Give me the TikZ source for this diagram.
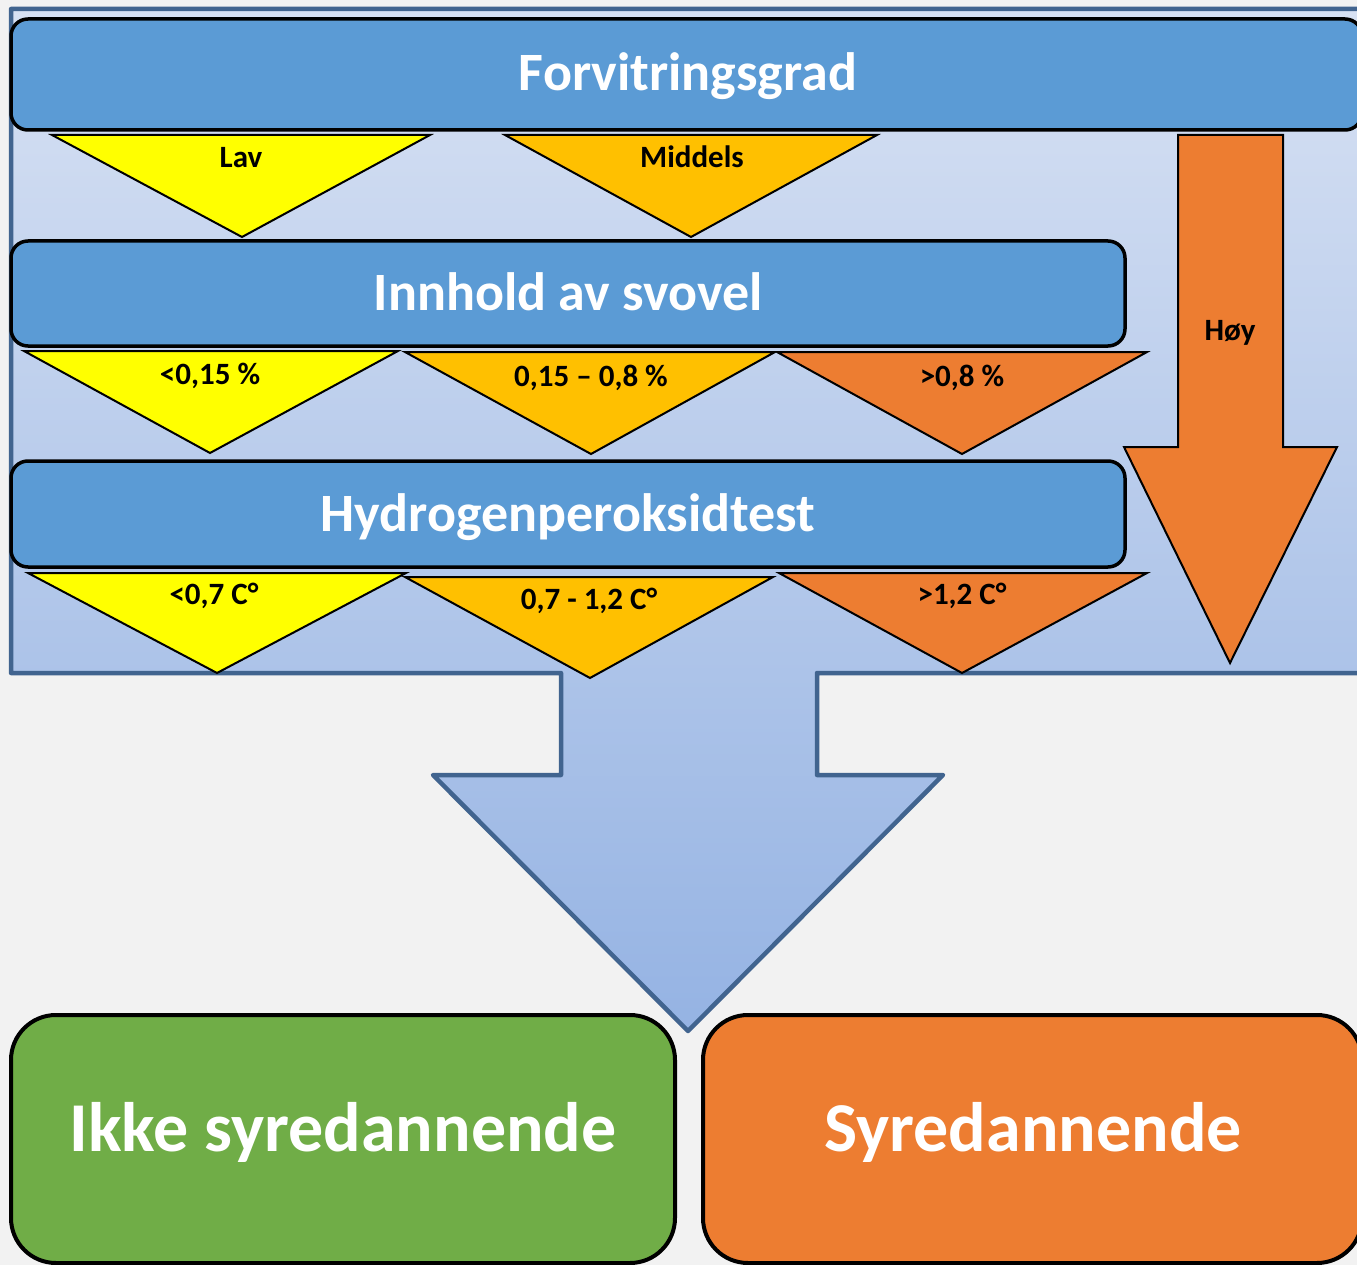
\documentclass[tikz,border=0pt]{standalone}
\usepackage{fontspec}
\setmainfont{Carlito}
\definecolor{bggray}{HTML}{F2F2F2}
\definecolor{frameblue}{HTML}{41648F}
\definecolor{boxblue}{HTML}{5B9BD5}
\definecolor{yel}{HTML}{FFFF00}
\definecolor{gold}{HTML}{FFC000}
\definecolor{orng}{HTML}{ED7D31}
\definecolor{grn}{HTML}{70AD47}
\definecolor{shtop}{HTML}{D7E1F3}
\definecolor{shmid}{HTML}{BDCEEC}
\definecolor{shbot}{HTML}{95B3E3}
\tikzset{
  bluebox/.style={draw=black, line width=3.5pt, fill=boxblue, rounded corners=17pt, inner sep=0pt},
  endbox/.style={draw=black, line width=4pt, rounded corners=45pt, inner sep=0pt},
  tri/.style={draw=black, line width=2pt, line join=miter},
  bigtxt/.style={text=white, font=\bfseries\fontsize{54}{62}\selectfont, anchor=base, inner sep=0pt},
  hugetxt/.style={text=white, font=\bfseries\fontsize{70}{80}\selectfont, anchor=base, inner sep=0pt},
  smalltxt/.style={text=black, font=\bfseries\fontsize{31}{36}\selectfont, anchor=base, inner sep=0pt},
  framestyle/.style={draw=frameblue, line width=4.5pt, line join=round, top color=shtop, middle color=shmid, bottom color=shbot}
}
\begin{document}
\begin{tikzpicture}[x=1pt, y=-1pt]
\useasboundingbox (0,0) rectangle (1357,1265);
\clip (0,0) rectangle (1357,1265);
\fill[bggray] (0,0) rectangle (1357,1265);
% frame with big arrow
\shade[framestyle] (11,9) -- (1375,9) -- (1375,673) -- (817,673) -- (817,775) -- (943,775) -- (688,1031) -- (433,775) -- (561,775) -- (561,673) -- (11,673) -- cycle;
% high arrow
\draw[tri, fill=orng] (1178,135) -- (1283,135) -- (1283,447) -- (1337,447) -- (1230,663) -- (1124,447) -- (1178,447) -- cycle;
\node[smalltxt] (hoy) at (1230,340) {Høy};
% row 1 triangles
\draw[tri, fill=yel] (52,135) -- (430,135) -- (242,237) -- cycle;
\draw[tri, fill=gold] (505,135) -- (877,135) -- (691,237) -- cycle;
\node[smalltxt] (lav) at (241,168) {Lav};
\node[smalltxt] (middels) at (692,168) {Middels};
% row 2 triangles
\draw[tri, fill=yel] (24,351) -- (398,351) -- (210,453) -- cycle;
\draw[tri, fill=gold] (405,352) -- (775,352) -- (591,454) -- cycle;
\draw[tri, fill=orng] (777,352) -- (1147,352) -- (962,454) -- cycle;
\node[smalltxt] (s1) at (210,384) {<0,15 \%};
\node[smalltxt] (s2) at (591,386) {0,15 – 0,8 \%};
\node[smalltxt] (s3) at (962,386) {>0,8 \%};
% row 3 triangles
\draw[tri, fill=yel] (28,573) -- (406,573) -- (217,673) -- cycle;
\draw[tri, fill=gold] (405,577) -- (773,577) -- (590,678) -- cycle;
\draw[tri, fill=orng] (779,573) -- (1147,573) -- (962,673) -- cycle;
\node[smalltxt] (h1) at (214,604) {<0,7 C°};
\node[smalltxt] (h2) at (589,609) {0,7 - 1,2 C°};
\node[smalltxt] (h3) at (962,604) {>1,2 C°};
% blue boxes
\node[bluebox, minimum width=1351pt, minimum height=111pt] (forvbox) at (686.5,74.5) {};
\node[bigtxt] (forv) at (688,91) {Forvitringsgrad};
\node[bluebox, minimum width=1114pt, minimum height=105pt] (svovbox) at (568,293.5) {};
\node[bigtxt] (svov) at (568,311) {Innhold av svovel};
\node[bluebox, minimum width=1114pt, minimum height=106pt] (hydbox) at (568,514) {};
\node[bigtxt] (hyd) at (568,531) {Hydrogenperoksidtest};
% result boxes
\node[endbox, fill=grn, minimum width=664pt, minimum height=248pt] (ikkebox) at (343,1139) {};
\node[hugetxt] (ikke) at (343,1151) {Ikke syredannende};
\node[endbox, fill=orng, minimum width=659pt, minimum height=248pt] (syrebox) at (1032.5,1139) {};
\node[hugetxt] (syre) at (1033,1151) {Syredannende};
\end{tikzpicture}
\end{document}
